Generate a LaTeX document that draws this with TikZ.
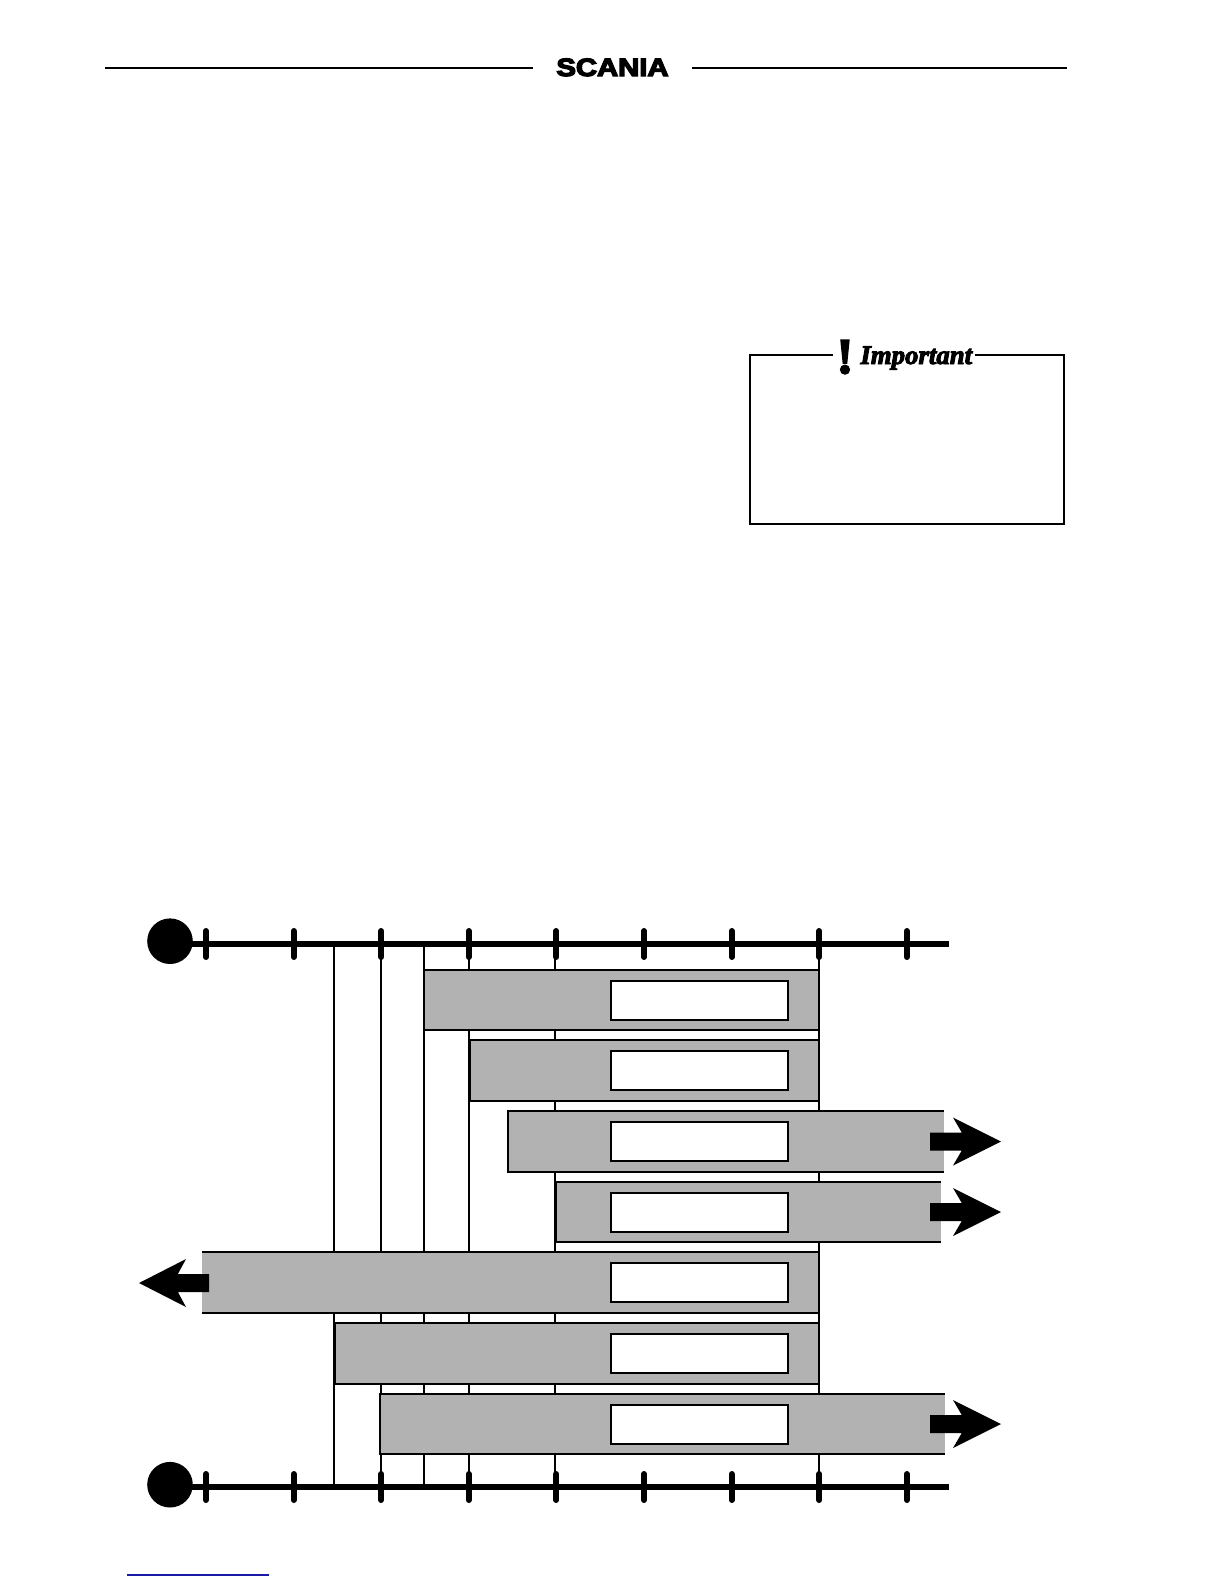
\documentclass[tikz,border=0pt]{standalone}
\usepackage{fontspec}
\setmainfont{Liberation Serif}
\newfontfamily\logofont[UprightFont=* Bold, FakeBold=5]{Liberation Sans}
\newfontfamily\headfont[UprightFont=* Bold Italic, FakeBold=3.5]{Liberation Serif}
\newfontfamily\markfont[UprightFont=* Bold, FakeBold=4]{Liberation Serif}
\usepackage{tikz}
\usetikzlibrary{calc}
\definecolor{barGray}{HTML}{B2B2B2}
\definecolor{linkBlue}{HTML}{1A1AA6}
\tikzset{
  thin rule/.style={line width=1pt},
  bar line/.style={line width=1pt},
  axis line/.style={line width=3pt},
  axis tick/.style={line width=3pt, line cap=round},
  label box/.style={draw, line width=1pt, fill=white},
  block arrow/.style={fill=black}
}
\newcommand{\blockright}[1]{\fill[block arrow] (930,#1-9) -- (962,#1-9) -- (967,#1) -- (962,#1+9) -- (930,#1+9) -- cycle
  (953,#1-24) -- (1001,#1) -- (953,#1+24) -- (967,#1) -- cycle;}
\begin{document}
\begin{tikzpicture}[x=0.5pt,y=-0.5pt]
    \useasboundingbox (0,0) rectangle (1224,1584);
    % Header
    \draw[thin rule] (105,68) -- (533,68);
    \draw[thin rule] (692,68) -- (1067,68);
    \node[inner sep=0, anchor=base] (logo) at (612.5,76) {\logofont\fontsize{12.5}{12.5}\selectfont\scalebox{1.17}[1]{SCANIA}};
    % Important box
    \draw[thin rule] (833,354.5) -- (749.5,354.5) -- (749.5,524) -- (1064,524) -- (1064,354.5) -- (975,354.5);
    \node[inner sep=0, anchor=base] (mark) at (845,373) {\markfont\fontsize{25}{25}\selectfont !};
    \node[inner sep=0, anchor=base west] (important) at (860,364) {\headfont\fontsize{13.4}{13.4}\selectfont Important};
    % Guide lines
    \foreach \xpos in {334,381,424,469,555,819} {
      \draw[bar line] (\xpos,944) -- (\xpos,1486);
    }
    % Axes
    \foreach \ypos/\ydot in {944/941.2,1487/1484.7} {
      \fill (170,\ydot) circle (22.8);
      \draw[axis line] (170,\ypos) -- (949,\ypos);
      \foreach \tick in {0,...,8} {
        \draw[axis tick] (206+87.6*\tick,\ypos-13) -- (206+87.6*\tick,\ypos+13);
      }
    }
    % Closed bars
    \foreach \xleft/\ytop/\ybot in {424/970/1030,470/1040/1101,335/1323/1384} {
      \draw[bar line, fill=barGray] (\xleft,\ytop) rectangle (819,\ybot);
    }
    % Bars running off to the right
    \foreach \xleft/\xright/\ytop/\ybot in {508/944/1111/1172,556/941/1182/1242,380/945/1394/1454} {
      \fill[barGray] (\xleft,\ytop) rectangle (\xright,\ybot);
      \draw[bar line] (\xright,\ytop) -- (\xleft,\ytop) -- (\xleft,\ybot) -- (\xright,\ybot);
    }
    % Bar running off to the left
    \fill[barGray] (202,1252) rectangle (819,1313);
    \draw[bar line] (202,1252) -- (819,1252) -- (819,1313) -- (202,1313);
    % Label boxes
    \foreach \ytop in {981,1051,1122,1193,1263,1334,1405} {
      \draw[label box] (610.5,\ytop) rectangle (788,\ytop+39);
    }
    % Arrows
    \blockright{1141.5}
    \blockright{1212}
    \blockright{1424}
    \fill[block arrow] (209,1274) -- (178,1274) -- (173,1283) -- (178,1292) -- (209,1292) -- cycle
      (186,1259) -- (139,1283) -- (186,1307) -- (173,1283) -- cycle;
    % Link rule
    \draw[linkBlue, line width=0.6pt] (127,1575) -- (269,1575);
\end{tikzpicture}
\end{document}
